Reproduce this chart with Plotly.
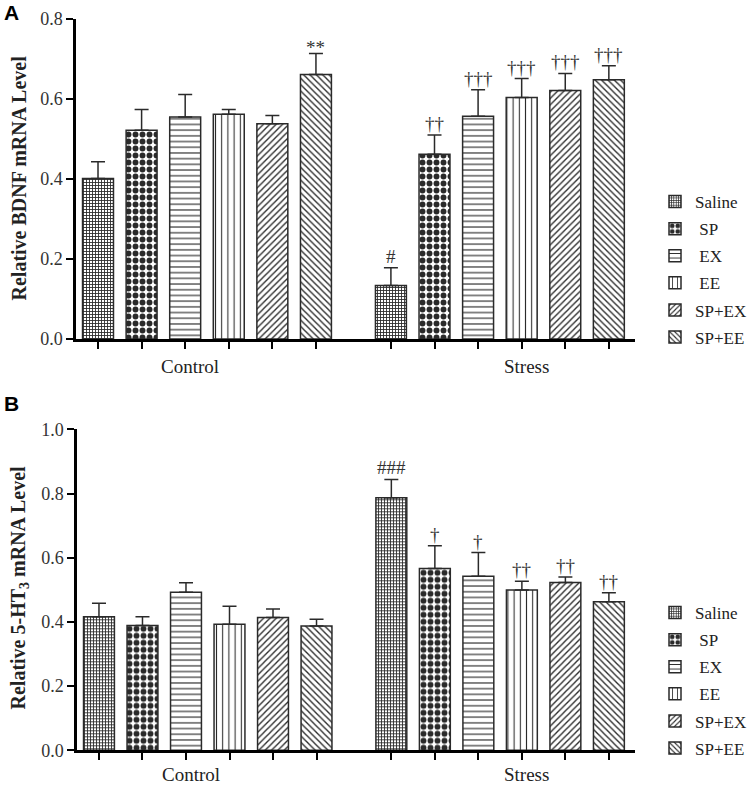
import plotly.graph_objects as go

# ---------------- data ----------------
series = ["Saline", "SP", "EX", "EE", "SP+EX", "SP+EE"]
legend_names = ["Saline", "\u00a0SP", "\u00a0EX", "\u00a0EE", "SP+EX", "SP+EE"]
groups = ["Control", "Stress"]

bdnf_control = [0.401, 0.522, 0.555, 0.562, 0.538, 0.661]
bdnf_control_err = [0.042, 0.052, 0.056, 0.012, 0.021, 0.053]
bdnf_stress = [0.134, 0.462, 0.557, 0.604, 0.621, 0.648]
bdnf_stress_err = [0.044, 0.048, 0.066, 0.047, 0.043, 0.035]
bdnf_sig_control = ["", "", "", "", "", "**"]
bdnf_sig_stress = ["#", "††", "†††", "†††", "†††", "†††"]

ht3_control = [0.416, 0.389, 0.492, 0.393, 0.414, 0.387]
ht3_control_err = [0.042, 0.027, 0.030, 0.056, 0.026, 0.021]
ht3_stress = [0.787, 0.566, 0.542, 0.499, 0.523, 0.463]
ht3_stress_err = [0.057, 0.071, 0.074, 0.028, 0.017, 0.028]
ht3_sig_control = ["", "", "", "", "", ""]
ht3_sig_stress = ["###", "†", "†", "††", "††", "††"]

y_ticks_a = [0.0, 0.2, 0.4, 0.6, 0.8]
y_ticks_b = [0.0, 0.2, 0.4, 0.6, 0.8, 1.0]

# ---------------- styling ----------------
SERIF = "Liberation Serif, Times New Roman, serif"
SANS = "Liberation Sans, Arial, sans-serif"
INK = "#2a2a2a"
GROUP_START = [0.0, 6.72]
GROUP_LABEL_X = [2.11, 9.82]
BAR_W = 0.71

patterns = [
    dict(shape="+", size=3, solidity=0.5),
    dict(shape=".", size=7, solidity=0.55),
    dict(shape="-", size=5.7, solidity=0.2),
    dict(shape="|", size=6.2, solidity=0.17),
    dict(shape="/", size=4.5, solidity=0.3),
    dict(shape="\\", size=4.5, solidity=0.3),
]

fig = go.Figure()


def add_panel(ctrl, ctrl_err, stress, stress_err, xa, ya, legend, tag):
    for i, name in enumerate(series):
        xs = [GROUP_START[0] + i, GROUP_START[1] + i]
        fig.add_trace(go.Bar(
            x=xs, y=[ctrl[i], stress[i]], width=BAR_W,
            name=legend_names[i], legend=legend, legendgroup=tag + name,
            xaxis=xa, yaxis=ya,
            marker=dict(color="white",
                        line=dict(color=INK, width=1.5),
                        pattern=dict(fgcolor=INK, bgcolor="white",
                                     fillmode="replace", **patterns[i])),
            error_y=dict(type="data", array=[ctrl_err[i], stress_err[i]],
                         arrayminus=[0, 0], symmetric=False,
                         color=INK, thickness=1.5, width=7),
        ))


add_panel(bdnf_control, bdnf_control_err, bdnf_stress, bdnf_stress_err, "x", "y", "legend", "a")
add_panel(ht3_control, ht3_control_err, ht3_stress, ht3_stress_err, "x2", "y2", "legend2", "b")

annotations = []


def sig_marks(vals, errs, sigs, g, yref, xref):
    for i, s in enumerate(sigs):
        if s:
            annotations.append(dict(
                x=GROUP_START[g] + i, y=vals[i] + errs[i], xref=xref, yref=yref,
                text=s, showarrow=False, xanchor="center", yanchor="bottom",
                yshift=(-6 if "*" in s else 0),
                borderpad=0, font=dict(family=SERIF, size=19, color="#333")))


sig_marks(bdnf_control, bdnf_control_err, bdnf_sig_control, 0, "y", "x")
sig_marks(bdnf_stress, bdnf_stress_err, bdnf_sig_stress, 1, "y", "x")
sig_marks(ht3_control, ht3_control_err, ht3_sig_control, 0, "y2", "x2")
sig_marks(ht3_stress, ht3_stress_err, ht3_sig_stress, 1, "y2", "x2")

for xr, yr, shift in [("x", "y", -27), ("x2", "y2", -24)]:
    for g, lab in enumerate(groups):
        annotations.append(dict(
            x=GROUP_LABEL_X[g], y=0, xref=xr, yref=yr,
            text=lab, showarrow=False, xanchor="center", yanchor="middle", yshift=shift,
            borderpad=0, font=dict(family=SERIF, size=19, color="#222")))

# y titles
annotations.append(dict(x=18.5 / 750, y=1 - 178 / 785, xref="paper", yref="paper",
                        xanchor="center", yanchor="middle",
                        text="<b>Relative BDNF mRNA Level</b>", textangle=-90,
                        showarrow=False, font=dict(family=SERIF, size=20, color="#222")))
annotations.append(dict(x=18.5 / 750, y=1 - 588 / 785, xref="paper", yref="paper",
                        xanchor="center", yanchor="middle",
                        text="<b>Relative 5-HT<sub>3</sub> mRNA Level</b>", textangle=-90,
                        showarrow=False, font=dict(family=SERIF, size=20, color="#222")))
# panel letters
annotations.append(dict(x=2 / 750, y=1, xref="paper", yref="paper", text="<b>A</b>",
                        xanchor="left", yanchor="top", showarrow=False, yshift=1,
                        font=dict(family=SANS, size=21, color="black")))
annotations.append(dict(x=2 / 750, y=1 - 390 / 785, xref="paper", yref="paper", text="<b>B</b>",
                        xanchor="left", yanchor="top", showarrow=False,
                        font=dict(family=SANS, size=21, color="black")))

x_ticks = [GROUP_START[g] + i for g in range(2) for i in range(len(series))]

xaxis_common = dict(range=[-0.505, 12.32], showline=True, linecolor="black", linewidth=2.5,
                    ticks="outside", ticklen=7, tickwidth=2, tickcolor="black",
                    tickvals=x_ticks, showticklabels=False, showgrid=False, zeroline=False)
yaxis_common = dict(showline=True, linecolor="black", linewidth=2.5, ticks="outside",
                    ticklen=7, tickwidth=2, tickcolor="black", showgrid=False, zeroline=False,
                    tickformat=".1f", tickfont=dict(family=SERIF, size=18, color="#333"))

legend_common = dict(xanchor="left", yanchor="top", font=dict(family=SERIF, size=17, color="#222"),
                     bgcolor="rgba(0,0,0,0)", tracegroupgap=2, traceorder="grouped")

fig.update_layout(
    width=750, height=785,
    margin=dict(l=0, r=0, t=0, b=0, autoexpand=False),
    paper_bgcolor="white", plot_bgcolor="white",
    barmode="overlay",
    xaxis=dict(domain=[76 / 750, 635 / 750], anchor="y", **xaxis_common),
    yaxis=dict(domain=[1 - 339 / 785, 1 - 19 / 785], range=[0, 0.8], tickvals=y_ticks_a,
               anchor="x", **yaxis_common),
    xaxis2=dict(domain=[77 / 750, 635 / 750], anchor="y2", **xaxis_common),
    yaxis2=dict(domain=[1 - 750.3 / 785, 1 - 429.3 / 785], range=[0, 1.0], tickvals=y_ticks_b,
                anchor="x2", **yaxis_common),
    legend=dict(x=655 / 750, y=1 - 184 / 785, **legend_common),
    legend2=dict(x=655 / 750, y=1 - 595 / 785, **legend_common),
    annotations=annotations,
    showlegend=True,
)

fig.write_html("out.html", config={"displayModeBar": False},
               post_script="document.body.style.margin='0';document.body.style.overflow='hidden';")
